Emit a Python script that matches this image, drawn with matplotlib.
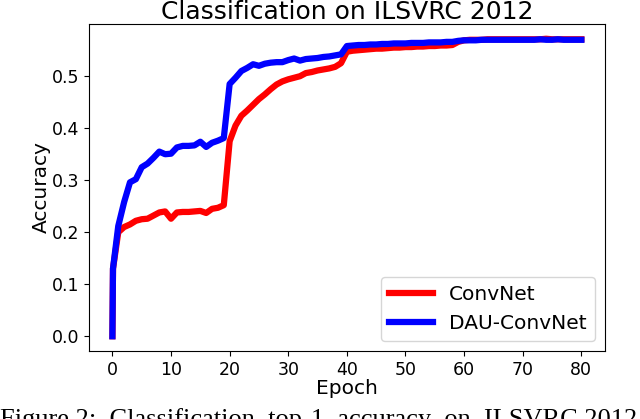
import numpy as np
import matplotlib
matplotlib.use('Agg')
from matplotlib import pyplot as plt

# epochs (first point is the untrained model, then an early eval)
epochs = [0, 0.1] + list(range(1, 81))

convnet = [0.0, 0.13,
           0.200, 0.210, 0.215, 0.222, 0.225, 0.226, 0.232, 0.238, 0.240, 0.226,
           0.238, 0.239, 0.239, 0.240, 0.241, 0.237, 0.245, 0.247, 0.252, 0.375,
           0.405, 0.424, 0.434, 0.445, 0.456, 0.465, 0.475, 0.484, 0.490, 0.494,
           0.497, 0.500, 0.506, 0.508, 0.511, 0.513, 0.515, 0.518, 0.525, 0.547,
           0.549, 0.550, 0.551, 0.552, 0.553, 0.553, 0.554, 0.555, 0.555, 0.556,
           0.556, 0.557, 0.557, 0.558, 0.558, 0.559, 0.559, 0.560, 0.566, 0.569,
           0.570, 0.570, 0.570, 0.571, 0.571, 0.571, 0.571, 0.571, 0.571, 0.571,
           0.571, 0.571, 0.571, 0.572, 0.571, 0.571, 0.571, 0.571, 0.571, 0.571]

dau_convnet = [0.0, 0.13,
               0.212, 0.258, 0.296, 0.302, 0.325, 0.332, 0.343, 0.355, 0.350, 0.351,
               0.363, 0.366, 0.366, 0.367, 0.374, 0.364, 0.372, 0.376, 0.381, 0.485,
               0.497, 0.510, 0.516, 0.523, 0.520, 0.524, 0.526, 0.527, 0.527, 0.531,
               0.534, 0.530, 0.533, 0.534, 0.535, 0.537, 0.538, 0.540, 0.542, 0.558,
               0.559, 0.560, 0.560, 0.561, 0.561, 0.562, 0.562, 0.563, 0.563, 0.563,
               0.564, 0.564, 0.564, 0.565, 0.565, 0.565, 0.566, 0.566, 0.568, 0.569,
               0.569, 0.569, 0.570, 0.570, 0.570, 0.570, 0.570, 0.570, 0.570, 0.570,
               0.570, 0.570, 0.571, 0.570, 0.570, 0.571, 0.570, 0.570, 0.570, 0.570]

fig = plt.figure(figsize=(6.4, 4.19), dpi=100)
ax = fig.add_axes([0.139, 0.162, 0.806, 0.781])

ax.plot(epochs, convnet, color='red', lw=4.5, label='ConvNet')
ax.plot(epochs, dau_convnet, color='blue', lw=4.5, label='DAU-ConvNet')

ax.set_title('Classification on ILSVRC 2012', fontsize=18, pad=2)
ax.set_xlabel('Epoch', fontsize=14.5, labelpad=0)
ax.set_ylabel('Accuracy', fontsize=14.5, labelpad=1)
ax.set_xticks([0, 10, 20, 30, 40, 50, 60, 70, 80])
ax.set_yticks([0.0, 0.1, 0.2, 0.3, 0.4, 0.5])
ax.tick_params(labelsize=12.5)
ax.legend(loc='lower right', fontsize=14.5, handlelength=2.2)

# figure caption from the paper, cut off at the bottom edge
fig.text(0.0, 419 - 408, 'Figure 2:  Classification  top-1  accuracy  on  ILSVRC 2012',
         transform=None, family='Liberation Serif', fontsize=19, va='top', ha='left')

fig.savefig('out.png', dpi=100)
